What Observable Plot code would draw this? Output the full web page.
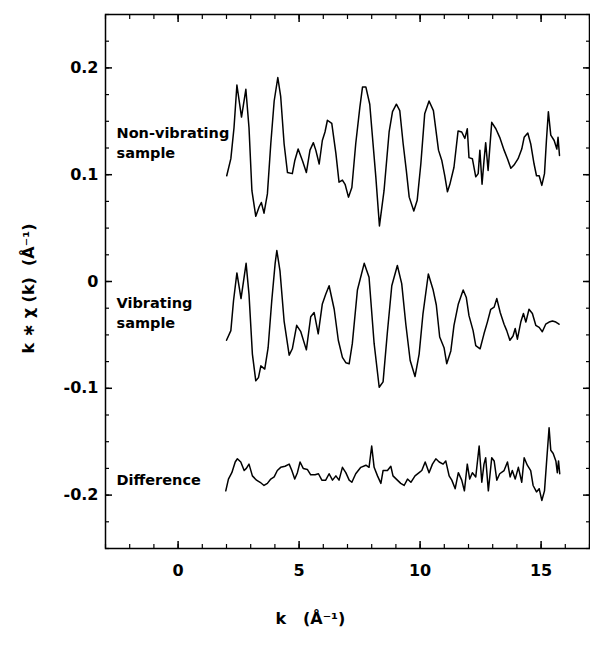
<!DOCTYPE html>
<html><head><meta charset="utf-8">
<script src="https://cdn.jsdelivr.net/npm/d3@7"></script>
<script src="https://cdn.jsdelivr.net/npm/@observablehq/plot@0.6"></script>
<style>body{margin:0;background:#fff}</style>
</head><body><div id="chart"></div>
<script>
// ---- data (k in 1/Å, k*chi(k)) ----
const kNon = [2.01,2.18,2.31,2.43,2.62,2.80,2.93,3.05,3.21,3.35,3.44,3.55,3.69,3.83,3.97,4.12,4.24,4.38,4.52,4.72,4.82,4.96,5.14,5.30,5.45,5.59,5.69,5.83,5.96,6.07,6.17,6.35,6.52,6.65,6.79,6.90,7.04,7.18,7.34,7.51,7.62,7.76,7.92,8.00,8.17,8.32,8.51,8.72,8.86,9.02,9.16,9.30,9.43,9.55,9.74,9.88,10.03,10.19,10.37,10.55,10.76,10.90,11.02,11.13,11.23,11.40,11.57,11.72,11.85,11.95,12.02,12.16,12.30,12.40,12.47,12.56,12.64,12.71,12.81,12.96,13.13,13.29,13.47,13.61,13.75,13.88,14.05,14.20,14.30,14.45,14.57,14.71,14.81,14.92,15.03,15.14,15.22,15.30,15.40,15.54,15.65,15.70,15.76];
const chiNon = [0.099,0.115,0.144,0.184,0.154,0.180,0.144,0.085,0.061,0.070,0.074,0.064,0.082,0.129,0.169,0.191,0.173,0.129,0.102,0.101,0.113,0.124,0.113,0.102,0.123,0.130,0.123,0.110,0.132,0.140,0.151,0.148,0.120,0.093,0.095,0.091,0.079,0.088,0.129,0.163,0.182,0.182,0.166,0.144,0.098,0.052,0.085,0.140,0.159,0.166,0.160,0.129,0.104,0.079,0.066,0.076,0.110,0.157,0.169,0.160,0.123,0.113,0.099,0.084,0.091,0.107,0.141,0.140,0.134,0.143,0.116,0.115,0.098,0.101,0.123,0.091,0.113,0.130,0.104,0.149,0.143,0.135,0.123,0.115,0.106,0.109,0.115,0.124,0.135,0.139,0.129,0.110,0.099,0.099,0.090,0.101,0.132,0.159,0.137,0.132,0.124,0.135,0.118];

const kVib = [2.00,2.18,2.29,2.43,2.60,2.81,2.93,3.07,3.21,3.32,3.42,3.58,3.72,3.87,4.01,4.08,4.21,4.38,4.59,4.72,4.90,5.07,5.30,5.48,5.62,5.79,5.96,6.10,6.24,6.45,6.62,6.79,6.93,7.07,7.20,7.41,7.69,7.89,8.10,8.31,8.47,8.65,8.83,9.06,9.24,9.41,9.59,9.79,9.96,10.12,10.34,10.54,10.67,10.81,10.99,11.10,11.27,11.40,11.58,11.78,11.91,12.02,12.19,12.30,12.48,12.64,12.78,12.92,13.06,13.17,13.31,13.47,13.58,13.71,13.84,13.93,14.02,14.16,14.27,14.37,14.50,14.64,14.78,14.92,15.05,15.19,15.33,15.47,15.61,15.74];
const chiVib = [-0.055,-0.046,-0.018,0.008,-0.016,0.017,-0.012,-0.068,-0.093,-0.090,-0.079,-0.082,-0.062,-0.018,0.017,0.029,0.010,-0.037,-0.069,-0.063,-0.041,-0.047,-0.064,-0.033,-0.029,-0.049,-0.021,-0.012,-0.004,-0.026,-0.055,-0.071,-0.076,-0.077,-0.058,-0.008,0.017,0.004,-0.058,-0.099,-0.094,-0.047,-0.004,0.015,-0.002,-0.040,-0.074,-0.089,-0.068,-0.030,0.007,-0.008,-0.022,-0.052,-0.062,-0.077,-0.065,-0.041,-0.021,-0.008,-0.015,-0.032,-0.046,-0.060,-0.063,-0.049,-0.038,-0.026,-0.024,-0.016,-0.029,-0.040,-0.046,-0.055,-0.051,-0.044,-0.054,-0.038,-0.030,-0.038,-0.026,-0.030,-0.041,-0.043,-0.047,-0.040,-0.038,-0.037,-0.038,-0.040];

const kDiff = [1.97,2.08,2.22,2.36,2.45,2.59,2.73,2.82,2.93,3.07,3.24,3.39,3.55,3.69,3.83,3.97,4.10,4.24,4.42,4.59,4.70,4.82,4.93,5.04,5.17,5.34,5.48,5.66,5.80,5.94,6.10,6.24,6.38,6.52,6.65,6.79,6.93,7.07,7.18,7.34,7.55,7.76,7.89,8.00,8.10,8.24,8.38,8.47,8.65,8.79,8.88,9.06,9.20,9.34,9.48,9.62,9.79,9.96,10.07,10.21,10.37,10.51,10.65,10.79,10.95,11.06,11.20,11.31,11.45,11.58,11.72,11.83,11.95,12.05,12.16,12.30,12.44,12.55,12.64,12.71,12.82,12.96,13.06,13.17,13.29,13.47,13.61,13.72,13.81,13.93,14.06,14.20,14.30,14.43,14.57,14.67,14.81,14.92,15.03,15.14,15.22,15.33,15.40,15.50,15.61,15.67,15.72,15.77];
const chiDiff = [-0.196,-0.185,-0.179,-0.169,-0.166,-0.169,-0.177,-0.175,-0.171,-0.182,-0.186,-0.188,-0.191,-0.189,-0.185,-0.183,-0.177,-0.174,-0.173,-0.171,-0.177,-0.185,-0.179,-0.169,-0.175,-0.176,-0.181,-0.181,-0.180,-0.186,-0.186,-0.180,-0.186,-0.182,-0.186,-0.174,-0.179,-0.186,-0.188,-0.180,-0.174,-0.172,-0.174,-0.154,-0.174,-0.182,-0.189,-0.177,-0.177,-0.173,-0.182,-0.186,-0.189,-0.191,-0.185,-0.188,-0.182,-0.179,-0.177,-0.169,-0.179,-0.171,-0.166,-0.169,-0.171,-0.168,-0.182,-0.186,-0.194,-0.179,-0.186,-0.196,-0.171,-0.185,-0.179,-0.183,-0.154,-0.188,-0.171,-0.165,-0.196,-0.165,-0.168,-0.186,-0.180,-0.177,-0.169,-0.183,-0.177,-0.185,-0.174,-0.188,-0.165,-0.172,-0.177,-0.191,-0.197,-0.194,-0.205,-0.196,-0.171,-0.137,-0.158,-0.161,-0.168,-0.179,-0.168,-0.180];

const seriesNames = ["Non-vibrating", "Vibrating", "Difference"];
const annotationTexts = ["Non-vibrating\nsample", "Vibrating\nsample", "Difference"];
const annotationLevels = [0.131, -0.028, -0.184];

const xMajor = [0, 5, 10, 15];
const xTickLabels = ["0", "5", "10", "15"];
const xMinor = d3.range(-3, 18, 1);
const yMajor = [-0.2, -0.1, 0, 0.1, 0.2];
const yTickLabels = ["-0.2", "-0.1", "0", "0.1", "0.2"];
const yMinor = d3.range(-10, 11).map(i => i * 0.025);
const xLabel = "k   (Å⁻¹)";
const yLabel = "k \u2217 χ (k)  (Å⁻¹)";

// ---- build table ----
const rows = [];
[[kNon, chiNon], [kVib, chiVib], [kDiff, chiDiff]].forEach(([ks, vs], s) => {
  ks.forEach((k, i) => rows.push({series: seriesNames[s], k, v: vs[i]}));
});
const annots = annotationTexts.map((t, i) => ({t, y: annotationLevels[i]}));

const font = "DejaVu Sans, Liberation Sans, sans-serif";
const W = 590, H = 660;
const tickOpts = (anchor, size, sw) => ({anchor, tickSize: size, tickFormat: () => "", label: null, strokeWidth: sw});
const chart = Plot.plot({
  width: W, height: H,
  marginLeft: 105, marginRight: 1, marginTop: 14, marginBottom: 112,
  style: {fontFamily: font, fontWeight: "bold", color: "#000", background: "#fff"},
  x: {domain: [-3, 17], axis: null},
  y: {domain: [-0.25, 0.25], axis: null},
  marks: [
    Plot.frame({stroke: "#000", strokeWidth: 1.5}),
    // inward ticks on all sides
    Plot.axisX(xMinor, tickOpts("bottom", -4, 1.2)),
    Plot.axisX(xMinor, tickOpts("top", -4, 1.2)),
    Plot.axisX(xMajor, tickOpts("bottom", -7, 1.5)),
    Plot.axisX(xMajor, tickOpts("top", -7, 1.5)),
    Plot.axisY(yMinor, tickOpts("left", -4, 1.2)),
    Plot.axisY(yMinor, tickOpts("right", -4, 1.2)),
    Plot.axisY(yMajor, tickOpts("left", -7, 1.5)),
    Plot.axisY(yMajor, tickOpts("right", -7, 1.5)),
    // tick labels
    Plot.axisX(xMajor, {anchor: "bottom", tickSize: 0, tickPadding: 16, label: null,
      tickFormat: (d, i) => xTickLabels[i], fontSize: 16, fontWeight: "bold", fill: "#000"}),
    Plot.axisY(yMajor, {anchor: "left", tickSize: 0, tickPadding: 7, label: null,
      tickFormat: (d, i) => yTickLabels[i], fontSize: 16, fontWeight: "bold", fill: "#000"}),
    // curves
    Plot.line(rows, {x: "k", y: "v", z: "series", stroke: "#000", strokeWidth: 1.5, curve: "linear"}),
    // annotations
    Plot.text(annots, {y: "y", text: "t", frameAnchor: "left", dx: 11, textAnchor: "start",
      fontSize: 14.5, fontWeight: "bold", lineHeight: 1.4, fill: "#000"}),
    // axis titles
    Plot.text([xLabel], {frameAnchor: "bottom-left", dx: 205, dy: 75, textAnchor: "middle",
      fontSize: 16, fontWeight: "bold", fill: "#000"}),
    Plot.text([yLabel], {frameAnchor: "left", dx: -77, dy: 7, rotate: -90, textAnchor: "middle",
      fontSize: 16, fontWeight: "bold", fill: "#000"})
  ]
});
document.getElementById("chart").appendChild(chart);
</script>
</body></html>
